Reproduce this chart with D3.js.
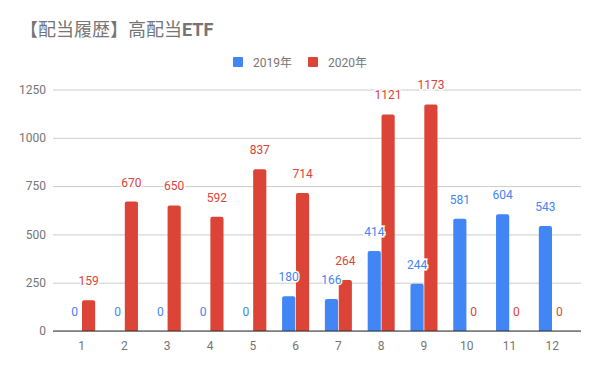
<!DOCTYPE html>
<html>
<head>
<meta charset="utf-8">
<script src="https://cdn.jsdelivr.net/npm/d3@7"></script>
<style>
  body { margin: 0; background: #fff; }
  text { font-family: Roboto, "Noto Sans CJK JP", sans-serif; }
</style>
</head>
<body>
<div id="chart"></div>
<script>
// chart data
const months = ["1", "2", "3", "4", "5", "6", "7", "8", "9", "10", "11", "12"];
const seriesNames = ["2019年", "2020年"];
const values2019 = [0, 0, 0, 0, 0, 180, 166, 414, 244, 581, 604, 543];
const values2020 = [159, 670, 650, 592, 837, 714, 264, 1121, 1173, 0, 0, 0];
const yTicks = [0, 250, 500, 750, 1000, 1250];
const colors = ["#4285F4", "#DB4437"];

const W = 600, H = 371;
const plot = { left: 53, right: 581, top: 89.5, bottom: 331 };

const svg = d3.select("#chart").append("svg")
  .attr("width", W)
  .attr("height", H);

// title (CJK part regular, ETF bold like the original)
const title = svg.append("text")
  .attr("x", 20)
  .attr("y", 36)
  .attr("fill", "#757575")
  .style("font-size", "18px");
title.append("tspan").text("【配当履歴】高配当");
title.append("tspan").style("font-weight", "bold").text("ETF");

// scales
const x = d3.scaleBand()
  .domain(months)
  .range([plot.left, plot.right])
  .paddingInner(0)
  .paddingOuter(0.17);

const x1 = d3.scaleBand()
  .domain(seriesNames)
  .range([-13.5, 13.5])
  .paddingInner(0.05);

const y = d3.scaleLinear()
  .domain([0, 1250])
  .range([plot.bottom, plot.top]);

// gridlines + y labels
const yAxis = svg.append("g")
  .attr("transform", `translate(${plot.left},0)`)
  .call(d3.axisLeft(y).tickValues(yTicks).tickFormat(d3.format("d"))
    .tickSize(-(plot.right - plot.left)).tickPadding(7));
yAxis.select(".domain").remove();
yAxis.selectAll(".tick line").attr("stroke", "#cccccc");
yAxis.selectAll(".tick text")
  .attr("fill", "#757575")
  .style("font-size", "12px")
  .style("font-family", "Roboto, sans-serif");

// bars
const data = months.map((m, i) => ({ month: m, vals: [values2019[i], values2020[i]] }));

const rounded = (x0, y0, w, h, r) => {
  if (h <= 0) return "";
  r = Math.min(r, h, w / 2);
  return `M${x0},${y0 + h}V${y0 + r}Q${x0},${y0} ${x0 + r},${y0}H${x0 + w - r}Q${x0 + w},${y0} ${x0 + w},${y0 + r}V${y0 + h}Z`;
};

const groups = svg.append("g").selectAll("g")
  .data(data)
  .join("g")
  .attr("transform", (d) => `translate(${x(d.month) + x.bandwidth() / 2},0)`);

groups.selectAll("path")
  .data((d) => d.vals.map((v, k) => ({ v, k })))
  .join("path")
  .attr("fill", (d) => colors[d.k])
  .attr("d", (d) => rounded(x1(seriesNames[d.k]), y(d.v), x1.bandwidth(), plot.bottom - y(d.v), 2));

// baseline
svg.append("line")
  .attr("x1", plot.left)
  .attr("x2", plot.right)
  .attr("y1", plot.bottom)
  .attr("y2", plot.bottom)
  .attr("stroke", "#333333")
  .attr("stroke-width", 1);

// value labels
groups.selectAll("text.val")
  .data((d) => d.vals.map((v, k) => ({ v, k })))
  .join("text")
  .attr("class", "val")
  .attr("x", (d) => x1(seriesNames[d.k]) + x1.bandwidth() / 2)
  .attr("y", (d) => y(d.v) - 15)
  .attr("text-anchor", "middle")
  .attr("fill", (d) => colors[d.k])
  .attr("stroke", "#fff")
  .attr("stroke-width", 3)
  .attr("paint-order", "stroke")
  .style("font-size", "12px")
  .text((d) => d.v);

// x labels
svg.append("g").selectAll("text")
  .data(months)
  .join("text")
  .attr("x", (d) => x(d) + x.bandwidth() / 2)
  .attr("y", 350)
  .attr("text-anchor", "middle")
  .attr("fill", "#757575")
  .style("font-size", "12px")
  .text((d) => d);

// legend
const legend = svg.append("g");
const legendX = [233, 308];
seriesNames.forEach((s, k) => {
  legend.append("rect")
    .attr("x", legendX[k])
    .attr("y", 57)
    .attr("width", 10)
    .attr("height", 10)
    .attr("rx", 1)
    .attr("fill", colors[k]);
  legend.append("text")
    .attr("x", legendX[k] + 20)
    .attr("y", 66.5)
    .attr("fill", "#757575")
    .style("font-size", "12px")
    .text(s);
});
</script>
</body>
</html>
